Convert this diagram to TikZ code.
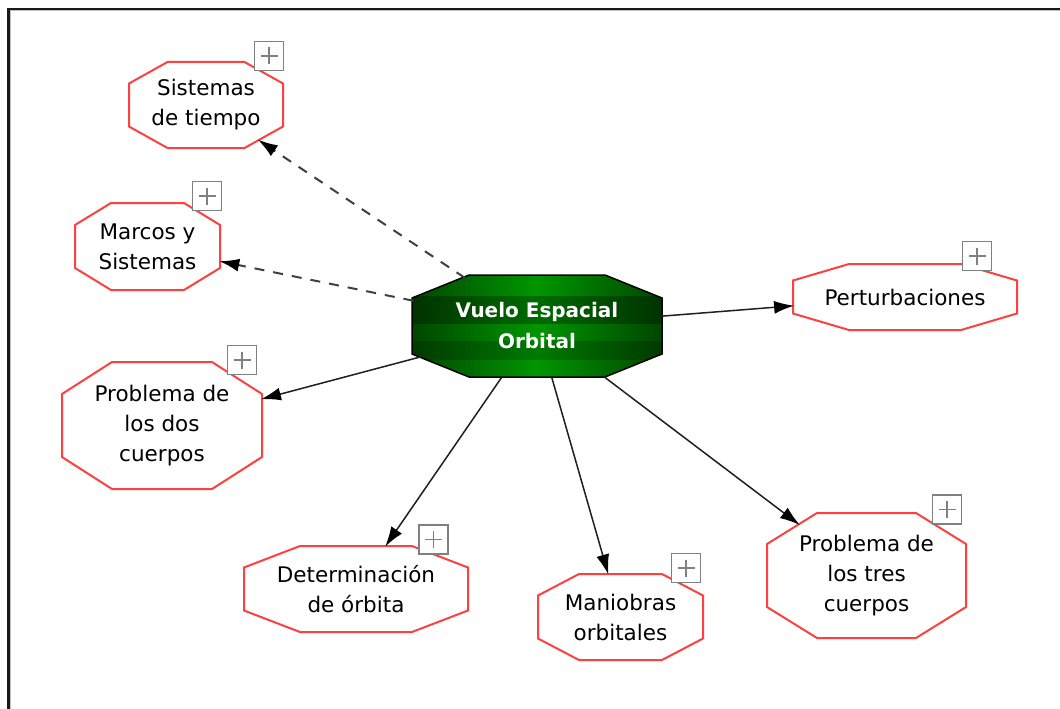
\documentclass[tikz,border=0pt]{standalone}
\usepackage{fontspec}
\setmainfont{DejaVu Sans}
\usetikzlibrary{arrows.meta,calc}

% ---------------------------------------------------------------
% octbox: a rectangle with its four corners cut off (an octagon
% whose corner cuts are set by /pgf/octbox xcut and ycut)
% ---------------------------------------------------------------
\makeatletter
\pgfkeys{/pgf/octbox xcut/.initial=10pt, /pgf/octbox ycut/.initial=10pt}
\newdimen\oct@L \newdimen\oct@R \newdimen\oct@T \newdimen\oct@B
\newdimen\oct@cx \newdimen\oct@cy
\pgfdeclareshape{octbox}{%
  \inheritsavedanchors[from=rectangle]%
  \inheritanchor[from=rectangle]{center}%
  \inheritanchor[from=rectangle]{text}%
  \inheritanchor[from=rectangle]{mid}%
  \inheritanchor[from=rectangle]{base}%
  \inheritanchor[from=rectangle]{north}%
  \inheritanchor[from=rectangle]{south}%
  \inheritanchor[from=rectangle]{east}%
  \inheritanchor[from=rectangle]{west}%
  \inheritanchor[from=rectangle]{north east}%
  \inheritanchor[from=rectangle]{north west}%
  \inheritanchor[from=rectangle]{south east}%
  \inheritanchor[from=rectangle]{south west}%
  \savedmacro\octxc{\pgfmathsetmacro\octxc{\pgfkeysvalueof{/pgf/octbox xcut}}}%
  \savedmacro\octyc{\pgfmathsetmacro\octyc{\pgfkeysvalueof{/pgf/octbox ycut}}}%
  \backgroundpath{%
    \southwest \oct@L=\pgf@x \oct@B=\pgf@y
    \northeast \oct@R=\pgf@x \oct@T=\pgf@y
    \oct@cx=\octxc pt \oct@cy=\octyc pt
    \pgfpathmoveto{\pgfqpoint{\dimexpr\oct@L+\oct@cx\relax}{\oct@T}}%
    \pgfpathlineto{\pgfqpoint{\dimexpr\oct@R-\oct@cx\relax}{\oct@T}}%
    \pgfpathlineto{\pgfqpoint{\oct@R}{\dimexpr\oct@T-\oct@cy\relax}}%
    \pgfpathlineto{\pgfqpoint{\oct@R}{\dimexpr\oct@B+\oct@cy\relax}}%
    \pgfpathlineto{\pgfqpoint{\dimexpr\oct@R-\oct@cx\relax}{\oct@B}}%
    \pgfpathlineto{\pgfqpoint{\dimexpr\oct@L+\oct@cx\relax}{\oct@B}}%
    \pgfpathlineto{\pgfqpoint{\oct@L}{\dimexpr\oct@B+\oct@cy\relax}}%
    \pgfpathlineto{\pgfqpoint{\oct@L}{\dimexpr\oct@T-\oct@cy\relax}}%
    \pgfpathclose
  }%
  \anchorborder{%
    \edef\oct@dx{\pgf@sys@tonumber\pgf@x}%
    \edef\oct@dy{\pgf@sys@tonumber\pgf@y}%
    \southwest
    \edef\oct@swx{\pgf@sys@tonumber\pgf@x}\edef\oct@swy{\pgf@sys@tonumber\pgf@y}%
    \northeast
    \edef\oct@nex{\pgf@sys@tonumber\pgf@x}\edef\oct@ney{\pgf@sys@tonumber\pgf@y}%
    \pgfmathsetmacro\oct@a{(\oct@nex-\oct@swx)/2}%
    \pgfmathsetmacro\oct@b{(\oct@ney-\oct@swy)/2}%
    \pgfmathsetmacro\oct@d{max(veclen(\oct@dx,\oct@dy),0.001)}%
    \pgfmathsetmacro\oct@ux{abs(\oct@dx)/\oct@d+0.01}%
    \pgfmathsetmacro\oct@uy{abs(\oct@dy)/\oct@d+0.01}%
    \pgfmathsetmacro\oct@t{min(\oct@a/\oct@ux,\oct@b/\oct@uy,
      (\oct@a*\octyc+\oct@b*\octxc-\octxc*\octyc)/(\oct@ux*\octyc+\oct@uy*\octxc))}%
    \pgfmathsetmacro\oct@px{\oct@t*(\oct@dx/\oct@d)+(\oct@nex+\oct@swx)/2}%
    \pgfmathsetmacro\oct@py{\oct@t*(\oct@dy/\oct@d)+(\oct@ney+\oct@swy)/2}%
    \pgf@x=\oct@px pt
    \pgf@y=\oct@py pt
  }%
}
\makeatother

\definecolor{topicred}{RGB}{255,64,64}
\definecolor{hubdark}{RGB}{0,70,0}
\definecolor{hubmid}{RGB}{0,150,0}
\definecolor{plusgray}{RGB}{128,128,128}
\definecolor{dashgray}{RGB}{64,64,64}

\tikzset{
  octa/.style n args={4}{shape=octbox, inner sep=0pt, outer sep=0pt,
    minimum width=#1, minimum height=#2,
    /pgf/octbox xcut=#3, /pgf/octbox ycut=#4},
  topic/.style={draw=topicred, line width=2, fill=white, align=center,
    font=\fontsize{21.5}{30}\selectfont},
  hub/.style={draw=black, line width=1.5, align=center, text=white,
    font=\bfseries\fontsize{20}{31}\selectfont,
    left color=hubdark, right color=hubdark, middle color=hubmid,
    path picture={
      \fill[black, opacity=0.28]
        ($(path picture bounding box.north west)+(0,21)$) rectangle
        ($(path picture bounding box.north east)+(0,49)$);
      \fill[black, opacity=0.18]
        ($(path picture bounding box.north west)+(0,66)$) rectangle
        ($(path picture bounding box.north east)+(0,85)$);}},
  plusbox/.style={draw=plusgray, line width=1.8, fill=white, inner sep=0pt,
    minimum size=29,
    path picture={
      \draw[plusgray, line width=1.2]
        ($(path picture bounding box.center)+(-8.5,0)$) -- ++(17,0)
        ($(path picture bounding box.center)+(0,-8.5)$) -- ++(0,17);}},
  link/.style={draw=black!88, line width=1.5,
    -{Latex[length=20,width=13,color=black]}},
  dashlink/.style={draw=dashgray, line width=2, dash pattern=on 10 off 9,
    -{Latex[length=20,width=13,color=black]}},
}

\begin{document}
\begin{tikzpicture}[x=1pt,y=-1pt]
  \useasboundingbox (0,0) rectangle (1060,709);

  % window frame (top and left edges with a light inner line)
  \coordinate (frameTL) at (8.5,9);
  \coordinate (frameTR) at (1060,9);
  \coordinate (frameBL) at (8.5,709);
  \draw[black!25, line width=1] ($(frameTR)+(0,2)$) -- ($(frameTL)+(2,2)$) -- ($(frameBL)+(2,0)$);
  \draw[black!90, line width=2.2] (frameTR) -- (frameTL) -- (frameBL);

  % central topic
  \node[hub, octa={250}{102}{57}{23}] (hub) at (537,326) {Vuelo Espacial\\Orbital};

  % sub-topics
  \node[topic, octa={154}{86}{38.5}{21.5}] (tiempo) at (206,105) {Sistemas\\de tiempo};
  \node[topic, octa={145}{87}{36}{22}] (marcos) at (147.5,246.5) {Marcos y\\Sistemas};
  \node[topic, octa={200}{127}{50}{32}] (dos) at (162,425.5) {Problema de\\los dos\\cuerpos};
  \node[topic, octa={224}{86}{56}{21.5}] (orbita) at (356,589) {Determinación\\de órbita};
  \node[topic, octa={165}{86}{41}{21.5}] (maniobras) at (620.5,617) {Maniobras\\orbitales};
  \node[topic, octa={199}{125}{50}{31}] (tres) at (866.5,575.5) {Problema de\\los tres\\cuerpos};
  \node[topic, octa={224}{66}{56}{16.5}] (pert) at (905,297) {Perturbaciones};

  % expand markers
  \node[plusbox] (tiempoPlus) at (269,56) {};
  \node[plusbox] (marcosPlus) at (207,196) {};
  \node[plusbox] (dosPlus) at (242,360) {};
  \node[plusbox] (orbitaPlus) at (433.5,539.5) {};
  \node[plusbox] (maniobrasPlus) at (686,568) {};
  \node[plusbox] (tresPlus) at (947,509.5) {};
  \node[plusbox] (pertPlus) at (977,256) {};

  % connectors
  \draw[dashlink] (hub) -- (tiempo);
  \draw[dashlink] (hub) -- (marcos);
  \draw[link] (hub) -- (dos);
  \draw[link] (hub) -- (orbita);
  \draw[link] (hub) -- (maniobras);
  \draw[link] (hub) -- (tres);
  \draw[link] (hub) -- (pert);
\end{tikzpicture}
\end{document}
